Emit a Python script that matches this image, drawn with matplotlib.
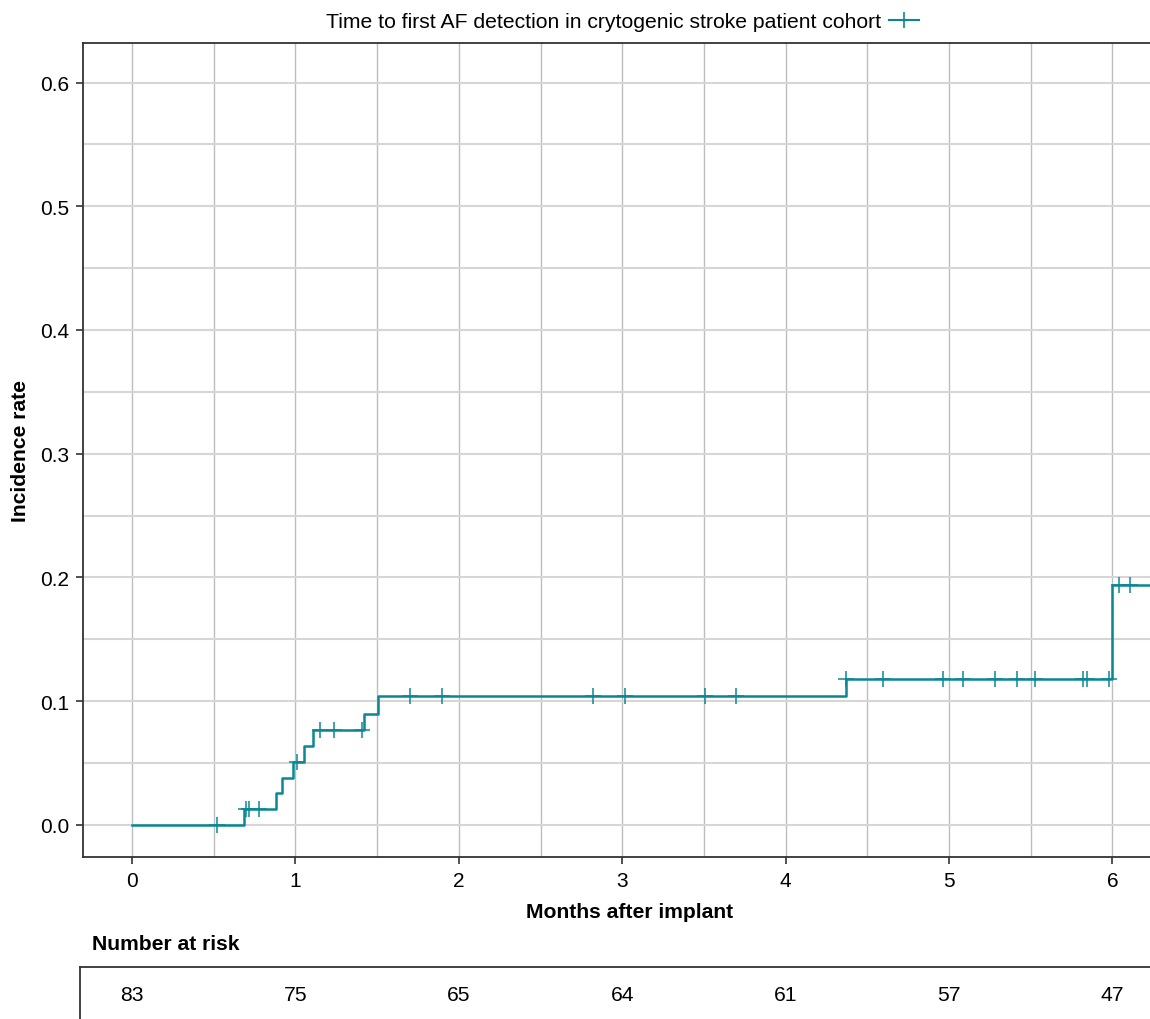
import matplotlib
matplotlib.use("Agg")
import matplotlib.pyplot as plt
import matplotlib.transforms as mtransforms
import numpy as np

plt.rcParams['font.family'] = ['Liberation Sans', 'DejaVu Sans']

# Datos: tiempos de evento (meses) y nivel de incidencia tras cada salto
step_times = [0.0, 0.686, 0.88, 0.917, 0.982, 1.055, 1.11, 1.417, 1.505, 4.368, 5.995]
step_levels = [0.0, 0.013, 0.026, 0.038, 0.051, 0.064, 0.077, 0.090, 0.104, 0.118, 0.194]
end_time = 6.4

# Censurados (meses)
censor_times = [0.519, 0.70, 0.716, 0.776, 1.012, 1.151, 1.237, 1.41, 1.703, 1.897,
                2.822, 3.016, 3.504, 3.696, 4.37, 4.595, 4.961, 5.085, 5.282,
                5.418, 5.524, 5.822, 5.845, 5.979, 6.04, 6.11]

risk_times = [0, 1, 2, 3, 4, 5, 6]
risk_counts = [83, 75, 65, 64, 61, 57, 47]

label = "Time to first AF detection in crytogenic stroke patient cohort"
color = '#0b8794'
fs = 15.2

fig = plt.figure(figsize=(11.5, 10.2), dpi=100)
ax = fig.add_axes([0.0722, 0.1588, 0.95, 0.7981])

x_step = step_times + [end_time]
y_step = step_levels + [step_levels[-1]]
ax.step(x_step, y_step, where='post', color=color, lw=1.8, zorder=3)

for t in censor_times:
    idx = np.searchsorted(step_times, t, side='right') - 1
    ax.plot(t, step_levels[idx], marker='+', ms=11, mew=1.1, color=color,
            ls='none', zorder=4)

ax.set_xticks(risk_times)
ax.set_xticks(np.arange(0.5, 6.5, 0.5), minor=True)
ax.set_yticks(np.arange(0, 0.61, 0.1))
ax.set_yticks(np.arange(0.05, 0.63, 0.1), minor=True)
ax.set_yticklabels([f"{v:.1f}" for v in np.arange(0, 0.61, 0.1)])
ax.set_xlim(-0.3, 6.386)
ax.set_ylim(-0.026, 0.632)

ax.grid(axis='x', which='both', color='#bdbdbd', lw=1.0)
ax.grid(axis='y', which='both', color='#d6d6d6', lw=1.5)
ax.set_axisbelow(True)

for side in ['left', 'top', 'bottom']:
    ax.spines[side].set_color('#333333')
    ax.spines[side].set_linewidth(1.3)
ax.spines['right'].set_visible(False)
ax.tick_params(axis='both', which='major', length=5, width=1.2, color='#333333',
               labelsize=15, pad=5)
ax.tick_params(axis='both', which='minor', length=0)

ax.set_xlabel("Months after implant", fontsize=fs, fontweight='bold', labelpad=9)
ax.set_ylabel("Incidence rate", fontsize=fs, fontweight='bold', labelpad=7)

handle, = ax.plot([], [], color=color, marker='+', ms=12, mew=1.2, lw=1.5)
fig.legend([handle], [label], loc='center', bbox_to_anchor=(0.541, 0.9775),
           frameon=False, fontsize=fs, markerfirst=False, handlelength=1.4,
           handletextpad=0.4)

# Tabla de "Number at risk"
fig.text(92 / 1150, 1 - 945 / 1020, "Number at risk", fontsize=fs,
         fontweight='bold', ha='left', va='center')
tax = fig.add_axes([80 / 1150, -0.05, 1.0, 52 / 1020 + 0.05])
tax.set_xticks([])
tax.set_yticks([])
for side in ['right', 'bottom']:
    tax.spines[side].set_visible(False)
for side in ['left', 'top']:
    tax.spines[side].set_color('#333333')
    tax.spines[side].set_linewidth(1.3)
tax.patch.set_alpha(0)

trans = mtransforms.blended_transform_factory(ax.transData, fig.transFigure)
for t, n in zip(risk_times, risk_counts):
    fig.text(t, 1 - 996 / 1020, str(n), transform=trans, fontsize=fs,
             ha='center', va='center')

fig.savefig("out.png", dpi=100)
